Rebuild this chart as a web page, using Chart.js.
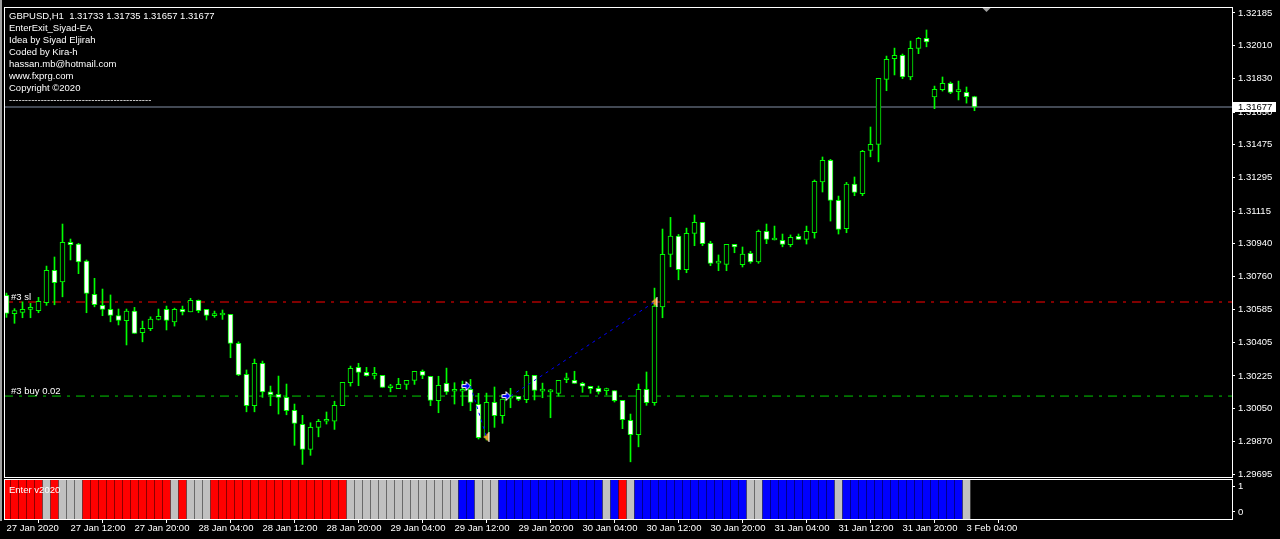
<!DOCTYPE html>
<html>
<head>
<meta charset="utf-8">
<title>GBPUSD,H1</title>
<script src="https://cdn.jsdelivr.net/npm/chart.js@4.4.1/dist/chart.umd.min.js"></script>
<style>
  html, body { margin: 0; padding: 0; background: #000; }
  body { width: 1280px; height: 539px; position: relative; overflow: hidden; }
  #priceChart { position: absolute; left: 0; top: 0; }
  #enterChart { position: absolute; left: 0; top: 478px; }
</style>
</head>
<body>
<canvas id="priceChart" width="1280" height="480"></canvas>
<canvas id="enterChart" width="1280" height="61"></canvas>
<script>
// GBPUSD H1 with the EnterExit_Siyad-EA trade lines and the "Enter v2020" panel

const SYMBOL = "GBPUSD";
const PERIOD = "H1";

const infoLines = [
    "EnterExit_Siyad-EA",
    "Idea by Siyad Eljirah",
    "Coded by Kira-h",
    "hassan.mb@hotmail.com",
    "www.fxprg.com",
    "Copyright \u00a92020",
    "---------------------------------------------"
];

// time axis: one label every 8 bars
const timeLabels = ["27 Jan 2020", "27 Jan 12:00", "27 Jan 20:00", "28 Jan 04:00", "28 Jan 12:00",
    "28 Jan 20:00", "29 Jan 04:00", "29 Jan 12:00", "29 Jan 20:00", "30 Jan 04:00", "30 Jan 12:00",
    "30 Jan 20:00", "31 Jan 04:00", "31 Jan 12:00", "31 Jan 20:00", "3 Feb 04:00"];
const LABEL_EVERY = 8;

// price scale labels
const priceTicks = [1.32185, 1.32010, 1.31830, 1.31650, 1.31475, 1.31295, 1.31115, 1.30940,
    1.30760, 1.30585, 1.30405, 1.30225, 1.30050, 1.29870, 1.29695];

// H1 bars
const openPrices = [
    1.30660, 1.30561, 1.30568, 1.30584, 1.30577, 1.30620, 1.30795, 1.30733, 1.30946, 1.30937,
    1.30845, 1.30665, 1.30606, 1.30584, 1.30550, 1.30523, 1.30575, 1.30458, 1.30480, 1.30530,
    1.30584, 1.30517, 1.30584, 1.30571, 1.30633, 1.30584, 1.30550, 1.30554, 1.30557, 1.30401,
    1.30233, 1.30064, 1.30293, 1.30139, 1.30125, 1.30109, 1.30039, 1.29963, 1.29828, 1.29947,
    1.29980, 1.29980, 1.30064, 1.30188, 1.30271, 1.30244, 1.30228, 1.30228, 1.30161, 1.30156,
    1.30179, 1.30201, 1.30250, 1.30223, 1.30091, 1.30185, 1.30142, 1.30142, 1.30152, 1.30071,
    1.29891, 1.30082, 1.30010, 1.30105, 1.30115, 1.30096, 1.30228, 1.30143, 1.30139, 1.30131,
    1.30204, 1.30201, 1.30185, 1.30169, 1.30158, 1.30145, 1.30145, 1.30093, 1.29985, 1.29907,
    1.30152, 1.30080, 1.30598, 1.30881, 1.30980, 1.30798, 1.30995, 1.31054, 1.30941, 1.30834,
    1.30827, 1.30935, 1.30825, 1.30887, 1.30841, 1.31006, 1.30959, 1.30957, 1.30933, 1.30979,
    1.30962, 1.30998, 1.31273, 1.31389, 1.31173, 1.31020, 1.31261, 1.31209, 1.31443, 1.31475,
    1.31826, 1.31938, 1.31956, 1.31840, 1.31994, 1.32048, 1.31732, 1.31770, 1.31805, 1.31760,
    1.31756, 1.31733];
const highPrices = [
    1.30672, 1.30588, 1.30625, 1.30617, 1.30649, 1.30818, 1.30867, 1.31045, 1.30964, 1.30941,
    1.30851, 1.30752, 1.30694, 1.30662, 1.30586, 1.30586, 1.30595, 1.30521, 1.30544, 1.30586,
    1.30602, 1.30591, 1.30602, 1.30644, 1.30635, 1.30584, 1.30575, 1.30581, 1.30557, 1.30409,
    1.30257, 1.30316, 1.30305, 1.30170, 1.30224, 1.30181, 1.30073, 1.30012, 1.29972, 1.29990,
    1.30030, 1.30088, 1.30190, 1.30278, 1.30293, 1.30271, 1.30271, 1.30228, 1.30179, 1.30212,
    1.30201, 1.30250, 1.30257, 1.30223, 1.30223, 1.30267, 1.30188, 1.30197, 1.30206, 1.30131,
    1.30132, 1.30165, 1.30100, 1.30158, 1.30115, 1.30250, 1.30228, 1.30186, 1.30152, 1.30201,
    1.30240, 1.30250, 1.30190, 1.30169, 1.30170, 1.30159, 1.30145, 1.30093, 1.30019, 1.30181,
    1.30246, 1.30699, 1.31018, 1.31081, 1.30989, 1.31023, 1.31094, 1.31054, 1.30952, 1.30878,
    1.30935, 1.30935, 1.30921, 1.30898, 1.31013, 1.31045, 1.31034, 1.30991, 1.30986, 1.30991,
    1.31034, 1.31283, 1.31407, 1.31394, 1.31196, 1.31270, 1.31299, 1.31443, 1.31569, 1.31832,
    1.31952, 1.31995, 1.31963, 1.32033, 1.32053, 1.32093, 1.31790, 1.31839, 1.31812, 1.31817,
    1.31785, 1.31735];
const lowPrices = [
    1.30541, 1.30509, 1.30539, 1.30539, 1.30566, 1.30606, 1.30609, 1.30652, 1.30851, 1.30777,
    1.30566, 1.30598, 1.30550, 1.30517, 1.30500, 1.30392, 1.30455, 1.30409, 1.30469, 1.30527,
    1.30473, 1.30494, 1.30554, 1.30571, 1.30566, 1.30527, 1.30541, 1.30530, 1.30323, 1.30226,
    1.30031, 1.30031, 1.30109, 1.30064, 1.30019, 1.30015, 1.29850, 1.29747, 1.29796, 1.29896,
    1.29965, 1.29936, 1.30064, 1.30170, 1.30172, 1.30224, 1.30208, 1.30163, 1.30139, 1.30156,
    1.30152, 1.30179, 1.30210, 1.30064, 1.30026, 1.30125, 1.30073, 1.30064, 1.30037, 1.29884,
    1.29879, 1.29947, 1.29969, 1.30053, 1.30091, 1.30080, 1.30095, 1.30107, 1.29999, 1.30116,
    1.30188, 1.30185, 1.30136, 1.30131, 1.30127, 1.30122, 1.30084, 1.29940, 1.29761, 1.29842,
    1.30066, 1.30066, 1.30539, 1.30814, 1.30744, 1.30782, 1.30928, 1.30928, 1.30820, 1.30793,
    1.30793, 1.30890, 1.30813, 1.30833, 1.30833, 1.30939, 1.30959, 1.30922, 1.30922, 1.30962,
    1.30937, 1.30969, 1.31218, 1.31061, 1.30991, 1.30998, 1.31198, 1.31198, 1.31408, 1.31381,
    1.31765, 1.31850, 1.31830, 1.31824, 1.31965, 1.32002, 1.31668, 1.31763, 1.31749, 1.31715,
    1.31698, 1.31657];
const closePrices = [
    1.30563, 1.30577, 1.30584, 1.30584, 1.30628, 1.30795, 1.30728, 1.30946, 1.30933, 1.30841,
    1.30671, 1.30609, 1.30584, 1.30552, 1.30525, 1.30575, 1.30455, 1.30482, 1.30532, 1.30547,
    1.30525, 1.30584, 1.30571, 1.30633, 1.30577, 1.30552, 1.30550, 1.30554, 1.30401, 1.30230,
    1.30064, 1.30293, 1.30139, 1.30123, 1.30109, 1.30037, 1.29969, 1.29828, 1.29947, 1.29980,
    1.29980, 1.30066, 1.30190, 1.30266, 1.30244, 1.30226, 1.30228, 1.30163, 1.30161, 1.30179,
    1.30201, 1.30250, 1.30228, 1.30093, 1.30174, 1.30139, 1.30142, 1.30152, 1.30082, 1.29891,
    1.30082, 1.30010, 1.30100, 1.30116, 1.30098, 1.30228, 1.30147, 1.30143, 1.30139, 1.30201,
    1.30204, 1.30185, 1.30169, 1.30156, 1.30139, 1.30145, 1.30091, 1.29988, 1.29907, 1.30152,
    1.30080, 1.30602, 1.30881, 1.30980, 1.30798, 1.30995, 1.31054, 1.30939, 1.30833, 1.30834,
    1.30935, 1.30922, 1.30883, 1.30841, 1.31006, 1.30962, 1.30959, 1.30935, 1.30973, 1.30962,
    1.31006, 1.31276, 1.31389, 1.31173, 1.31016, 1.31261, 1.31216, 1.31438, 1.31475, 1.31832,
    1.31934, 1.31956, 1.31840, 1.31994, 1.32048, 1.32029, 1.31772, 1.31805, 1.31756, 1.31760,
    1.31733, 1.31677];

// "Enter v2020" histogram: 1 = red, -1 = blue, 0 = silver, null = not drawn
const enterSignal = [
    1, 1, 1, 1, 1, 0, 1, 0, 0, 0,
    1, 1, 1, 1, 1, 1, 1, 1, 1, 1,
    1, 0, 1, 0, 0, 0, 1, 1, 1, 1,
    1, 1, 1, 1, 1, 1, 1, 1, 1, 1,
    1, 1, 1, 0, 0, 0, 0, 0, 0, 0,
    0, 0, 0, 0, 0, 0, 0, -1, -1, 0,
    0, 0, -1, -1, -1, -1, -1, -1, -1, -1,
    -1, -1, -1, -1, -1, 0, -1, 1, 0, -1,
    -1, -1, -1, -1, -1, -1, -1, -1, -1, -1,
    -1, -1, -1, 0, 0, -1, -1, -1, -1, -1,
    -1, -1, -1, -1, 0, -1, -1, -1, -1, -1,
    -1, -1, -1, -1, -1, -1, -1, -1, -1, -1,
    0, null];

// order #3 levels
const slLevel = 1.30624;
const buyLevel = 1.30116;

// trades drawn by the EA (bar index and price of open / close)
const tradeOpenBar = [58, 63];
const tradeOpenPrice = [1.30170, 1.30116];
const tradeCloseBar = [60, 81];
const tradeClosePrice = [1.29895, 1.30624];

// ---- scales / look ----
const FONT = "'Liberation Sans', Arial, sans-serif";
const FONT_SIZE = 9.5;
const BAR_PX = 8;
const X_MIN = -0.3125;
const X_MAX = X_MIN + 1228 / BAR_PX;
const Y_MIN = 1.29679;
const Y_MAX = 1.32217;
const P_MIN = -0.27;
const P_MAX = 1.27;
const CANDLE = "#00ff00";
const signalColor = { "1": "#ff0000", "-1": "#0000ff", "0": "#c0c0c0" };

Chart.defaults.font.family = FONT;
Chart.defaults.font.size = FONT_SIZE;
Chart.defaults.color = "#ffffff";

const lastBar = closePrices.length - 1;
const barIdx = closePrices.map((_, i) => i);

// blue "buy" arrow, tip in the middle of the image
function makeBuyArrow() {
    const c = document.createElement("canvas");
    c.width = 20;
    c.height = 14;
    const g = c.getContext("2d");
    g.beginPath();
    g.moveTo(1.5, 5.5);
    g.lineTo(5.5, 5.5);
    g.lineTo(5.5, 2.5);
    g.lineTo(10, 7);
    g.lineTo(5.5, 11.5);
    g.lineTo(5.5, 8.5);
    g.lineTo(1.5, 8.5);
    g.closePath();
    g.fillStyle = "#0000ff";
    g.fill();
    g.strokeStyle = "#ffffff";
    g.lineWidth = 1;
    g.stroke();
    return c;
}

// orange close marker pointing left, white back edge
function makeCloseMark() {
    const c = document.createElement("canvas");
    c.width = 8;
    c.height = 10;
    const g = c.getContext("2d");
    g.beginPath();
    g.moveTo(1, 5);
    g.lineTo(6, 0.5);
    g.lineTo(6, 9.5);
    g.closePath();
    g.fillStyle = "#e39b2b";
    g.fill();
    g.fillStyle = "#ffffff";
    g.fillRect(6, 0, 1, 10);
    return c;
}
const buyArrow = makeBuyArrow();
const closeMark = makeCloseMark();

function levelLine(price, color, dash) {
    return {
        type: "line",
        data: [{ x: X_MIN, y: price }, { x: X_MAX, y: price }],
        borderColor: color,
        borderWidth: 1,
        borderDash: dash,
        pointRadius: 0,
        order: 3
    };
}

const tradePaths = tradeOpenBar.map((b, k) => ({
    type: "line",
    data: [{ x: b, y: tradeOpenPrice[k] }, { x: tradeCloseBar[k], y: tradeClosePrice[k] }],
    borderColor: "#0000ff",
    borderWidth: 1,
    borderDash: [3, 4],
    pointRadius: 0,
    order: 0
}));

// frame, texts and the bid label on the price chart
const priceDecor = {
    id: "priceDecor",
    afterDraw(chart) {
        const ctx = chart.ctx;
        const a = chart.chartArea;
        const ys = chart.scales.y;
        const xs = chart.scales.x;
        ctx.save();
        ctx.fillStyle = "#a0a0a0";
        ctx.fillRect(0, 0, 2, chart.height);

        ctx.strokeStyle = "#ffffff";
        ctx.lineWidth = 1;
        ctx.strokeRect(a.left + 0.5, a.top + 0.5, a.right - a.left, a.bottom - a.top);

        // chart shift marker
        const sx = xs.getPixelForValue(lastBar + 1.5);
        ctx.fillStyle = "#a0a0a0";
        ctx.beginPath();
        ctx.moveTo(sx - 4, a.top + 1);
        ctx.lineTo(sx + 4, a.top + 1);
        ctx.lineTo(sx, a.top + 5);
        ctx.closePath();
        ctx.fill();

        ctx.font = FONT_SIZE + "px " + FONT;
        ctx.fillStyle = "#ffffff";
        ctx.textBaseline = "alphabetic";
        const head = SYMBOL + "," + PERIOD + "  " + [openPrices[lastBar], highPrices[lastBar],
            lowPrices[lastBar], closePrices[lastBar]].map(v => v.toFixed(5)).join(" ");
        [head].concat(infoLines).forEach((t, k) => ctx.fillText(t, 9, 18.5 + 12 * k));

        ctx.fillText("#3 sl", a.left + 7, ys.getPixelForValue(slLevel) - 2);
        ctx.fillText("#3 buy 0.02", a.left + 7, ys.getPixelForValue(buyLevel) - 2);

        // bid label on the price scale
        const by = Math.round(ys.getPixelForValue(closePrices[lastBar]));
        ctx.fillStyle = "#ffffff";
        ctx.fillRect(a.right + 1, by - 5, 43, 10);
        ctx.fillStyle = "#000000";
        ctx.textBaseline = "middle";
        ctx.fillText(closePrices[lastBar].toFixed(5), a.right + 6, by);
        ctx.restore();
    }
};

const panelDecor = {
    id: "panelDecor",
    afterDraw(chart) {
        const ctx = chart.ctx;
        const a = chart.chartArea;
        ctx.save();
        ctx.fillStyle = "#a0a0a0";
        ctx.fillRect(0, 0, 2, a.bottom + 2);
        ctx.strokeStyle = "#ffffff";
        ctx.lineWidth = 1;
        ctx.strokeRect(a.left + 0.5, a.top + 0.5, a.right - a.left, a.bottom - a.top);
        ctx.font = FONT_SIZE + "px " + FONT;
        ctx.fillStyle = "#ffffff";
        ctx.fillText("Enter v2020", 9, a.top + 13.5);
        ctx.restore();
    }
};

// Price chart
new Chart(document.getElementById("priceChart"), {
    type: "bar",
    data: {
        datasets: [
            {
                // candle bodies
                data: barIdx.map(i => ({ x: i, y: [openPrices[i], closePrices[i]] })),
                backgroundColor: barIdx.map(i => closePrices[i] < openPrices[i] ? "#ffffff" : "#000000"),
                borderColor: CANDLE,
                borderWidth: 1,
                borderSkipped: false,
                barThickness: 5,
                minBarLength: 2,
                grouped: false,
                order: 1
            },
            {
                // wicks
                data: barIdx.map(i => ({ x: i, y: [lowPrices[i], highPrices[i]] })),
                backgroundColor: CANDLE,
                borderWidth: 0,
                barThickness: 1,
                grouped: false,
                order: 2
            },
            levelLine(slLevel, "#ff0000", [9, 6, 3, 6]),
            levelLine(buyLevel, "#00cc00", [9, 6, 3, 6]),
            levelLine(closePrices[lastBar], "#8390a6", []),
            ...tradePaths,
            {
                type: "line",
                showLine: false,
                data: tradeOpenBar.map((b, k) => ({ x: b, y: tradeOpenPrice[k] })),
                pointStyle: buyArrow,
                pointRadius: 5,
                order: 0
            },
            {
                type: "line",
                showLine: false,
                data: tradeCloseBar.map((b, k) => ({ x: b, y: tradeClosePrice[k] })),
                pointStyle: closeMark,
                pointRadius: 5,
                order: 0
            }
        ]
    },
    options: {
        responsive: false,
        animation: false,
        events: [],
        layout: { autoPadding: false, padding: { left: 4, top: 7, right: 0, bottom: 3 } },
        plugins: { legend: { display: false }, tooltip: { enabled: false } },
        scales: {
            x: { type: "linear", display: false, min: X_MIN, max: X_MAX, offset: false },
            y: {
                position: "right",
                min: Y_MIN,
                max: Y_MAX,
                afterBuildTicks: s => { s.ticks = priceTicks.map(v => ({ value: v })); },
                afterFit: s => { s.width = 48; s.paddingTop = 0; s.paddingBottom = 0; },
                ticks: { color: "#ffffff", padding: 3, autoSkip: false, callback: v => v.toFixed(5) },
                grid: { drawOnChartArea: false, tickLength: 3, color: "#ffffff" },
                border: { display: false }
            }
        }
    },
    plugins: [priceDecor]
});

// Enter v2020 panel + time axis
const panelPoints = [];
const panelColors = [];
enterSignal.forEach((s, i) => {
    if (s === null) return;
    panelPoints.push({ x: i, y: [P_MIN, P_MAX] });
    panelColors.push(signalColor[s]);
});

new Chart(document.getElementById("enterChart"), {
    type: "bar",
    data: {
        datasets: [{
            data: panelPoints,
            backgroundColor: panelColors,
            borderWidth: 0,
            barThickness: 7,
            grouped: false
        }]
    },
    options: {
        responsive: false,
        animation: false,
        events: [],
        layout: { autoPadding: false, padding: { left: 4, top: 1, right: 0, bottom: 0 } },
        plugins: { legend: { display: false }, tooltip: { enabled: false } },
        scales: {
            x: {
                type: "linear",
                min: X_MIN,
                max: X_MAX,
                offset: false,
                afterBuildTicks: s => { s.ticks = timeLabels.map((t, k) => ({ value: k * LABEL_EVERY })); },
                afterFit: s => { s.height = 20; s.paddingLeft = 0; s.paddingRight = 0; },
                ticks: {
                    color: "#ffffff", align: "start", maxRotation: 0, autoSkip: false, padding: 0,
                    callback: (v, k) => timeLabels[k]
                },
                grid: { drawOnChartArea: false, tickLength: 4, color: "#ffffff" },
                border: { display: false }
            },
            y: {
                position: "right",
                min: P_MIN,
                max: P_MAX,
                afterBuildTicks: s => { s.ticks = [{ value: 1 }, { value: 0 }]; },
                afterFit: s => { s.width = 48; s.paddingTop = 0; s.paddingBottom = 0; },
                ticks: { color: "#ffffff", padding: 3, autoSkip: false, callback: v => String(v) },
                grid: { drawOnChartArea: false, tickLength: 3, color: "#ffffff" },
                border: { display: false }
            }
        }
    },
    plugins: [panelDecor]
});
</script>
</body>
</html>
